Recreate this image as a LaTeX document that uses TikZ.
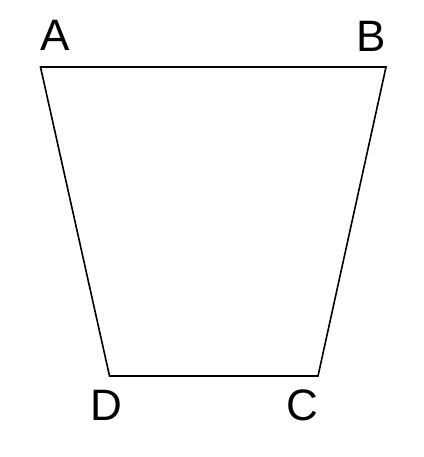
\documentclass[tikz,border=0pt]{standalone}
\usepackage{fontspec}
\setmainfont{Liberation Sans}
\begin{document}
\begin{tikzpicture}[x=1pt,y=-1pt,
  lbl/.style={anchor=base,inner sep=0pt,font=\fontsize{44}{48}\selectfont},
  edge/.style={line width=1.6pt,line join=miter}]
\useasboundingbox (0,0) rectangle (423,457);
\coordinate (A) at (40.5,67);
\coordinate (B) at (386,67);
\coordinate (C) at (318,376);
\coordinate (D) at (109.5,376);
\draw[edge] (A) -- (B) -- (C) -- (D) -- cycle;
\node[lbl] (la) at (55.5,51) {A};
\node[lbl] (lb) at (371.5,52) {B};
\node[lbl] (ld) at (106,420) {D};
\node[lbl] (lc) at (302,420) {C};
\end{tikzpicture}
\end{document}
